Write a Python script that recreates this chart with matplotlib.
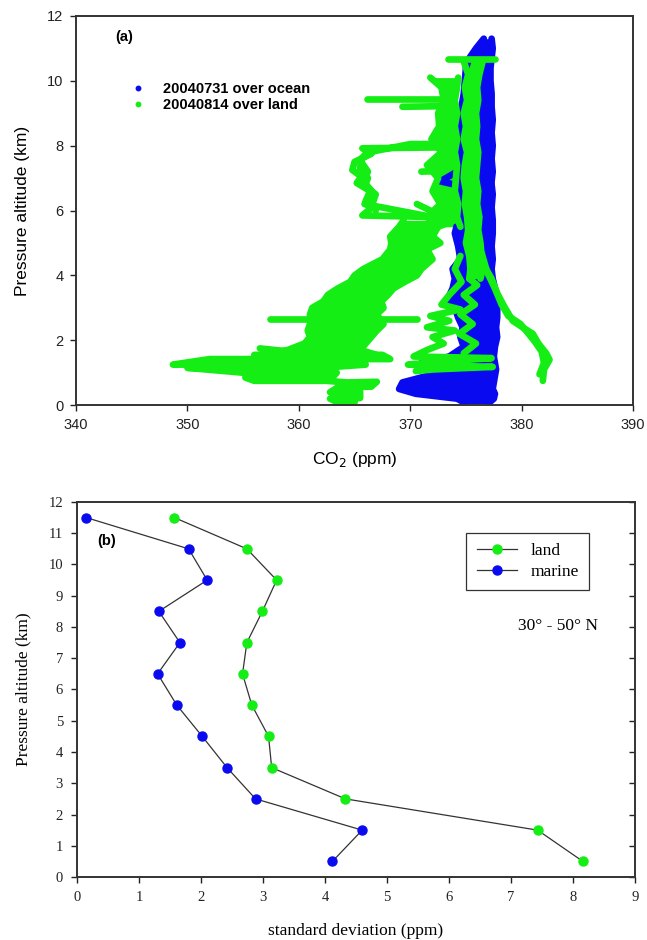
import matplotlib
matplotlib.use("Agg")
import matplotlib.pyplot as plt
from matplotlib.lines import Line2D

# ---- panel (a): CO2 profiles -------------------------------------------
# ocean flight 20040731: left / right edge of the measured band at each altitude
ocean_alt = [11.3, 11.0, 10.7, 10.4, 10.0, 9.6, 9.2, 8.8, 8.4, 8.0, 7.6, 7.2, 6.9, 6.8,
             6.5, 6.1, 5.7, 5.3, 4.9, 4.5, 4.2, 3.9, 3.6, 3.3, 3.0, 2.7, 2.4, 2.1,
             1.8, 1.5, 1.3, 1.1, 0.9, 0.7, 0.5, 0.35, 0.2, 0.05]
ocean_left = [376.6, 375.9, 375.3, 375.0, 374.9, 374.8, 374.6, 374.5, 374.4, 374.3,
              374.4, 374.2, 372.7, 374.0, 374.3, 374.4, 374.3, 374.0, 374.3, 374.5,
              373.8, 374.0, 373.8, 373.4, 374.0, 374.3, 374.7, 374.5, 374.8, 373.5,
              371.0, 372.5, 371.5, 369.3, 369.0, 370.5, 374.2, 375.0]
ocean_right = [377.3, 377.4, 377.3, 377.2, 377.2, 377.3, 377.3, 377.4, 377.3, 377.4,
               377.3, 377.4, 377.3, 377.3, 377.4, 377.3, 377.4, 377.4, 377.3, 377.4,
               377.3, 377.4, 377.6, 377.9, 377.8, 377.8, 377.7, 377.8, 377.6, 377.5,
               377.6, 377.7, 377.6, 377.5, 377.4, 377.6, 377.5, 377.0]

# land flight 20040814: main column near 375-376 ppm
landB_alt = [10.6, 10.2, 9.8, 9.4, 9.0, 8.6, 8.2, 7.8, 7.4, 7.0, 6.6, 6.2, 5.8, 5.4,
             5.0, 4.6, 4.2, 3.9]
landB_left = [374.8, 375.2, 374.9, 375.1, 374.8, 375.0, 374.8, 375.1, 374.9, 374.8,
              375.0, 374.9, 375.1, 375.2, 375.0, 375.3, 375.4, 375.3]
landB_right = [376.5, 376.2, 376.0, 376.1, 375.9, 376.0, 375.9, 376.1, 376.0, 375.9,
               376.1, 376.0, 376.2, 376.1, 376.3, 376.4, 376.5, 376.3]

# second column near 372-374 ppm (upper troposphere)
landA_alt = [10.1, 9.8, 9.4, 9.0, 8.6, 8.2, 7.8, 7.4, 7.0, 6.6, 6.2, 5.8, 5.5]
landA_left = [371.8, 372.8, 373.0, 372.5, 372.6, 371.9, 372.8, 371.5, 372.5, 372.0,
              372.7, 371.5, 372.5]
landA_right = [374.3, 374.2, 374.0, 374.2, 374.0, 374.2, 374.0, 374.2, 374.1, 374.0,
               374.3, 374.2, 374.5]

# lower-left band, 5.7 - 1.55 km
landL_alt = [5.7, 5.5, 5.2, 5.0, 4.8, 4.5, 4.2, 4.0, 3.8, 3.6, 3.4, 3.2, 3.0, 2.8,
             2.5, 2.3, 2.1, 1.9, 1.7, 1.55]
landL_left = [369.4, 369.0, 368.2, 368.3, 368.2, 367.5, 365.8, 365.0, 364.6, 363.5,
              362.6, 362.2, 361.2, 361.0, 361.0, 360.8, 361.0, 360.5, 359.0, 356.5]
landL_right = [374.0, 372.5, 372.0, 372.7, 371.5, 372.0, 371.0, 370.6, 369.5, 368.5,
               368.0, 367.4, 367.6, 367.0, 367.6, 367.0, 366.5, 366.0, 365.5, 367.0]

# individual legs (spikes, loop, boundary layer, branch to 382 ppm)
leg_top = ([373.4, 377.6], [10.68, 10.68])
leg_spike1 = ([366.1, 373.6], [9.45, 9.45])
leg_spike2 = ([369.3, 373.0], [9.2, 9.22])
leg_loop = ([373.3, 365.7, 366.5, 365.0, 364.8, 365.6, 365.2, 366.4, 366.0, 366.4,
             365.7, 372.0, 365.9, 366.8, 365.8, 366.2, 365.5, 366.3, 370.0, 373.5],
            [7.95, 7.92, 7.75, 7.50, 7.25, 7.05, 6.85, 6.60, 6.30, 6.05,
             5.85, 5.80, 6.20, 6.50, 6.90, 7.20, 7.55, 7.80, 8.05, 8.05])
leg_loop2 = ([366.3, 365.6, 365.5, 366.2, 365.9, 366.9, 366.6, 366.9],
             [7.85, 7.60, 7.30, 7.00, 6.75, 6.50, 6.20, 6.00])
leg_in1 = ([371.0, 372.7], [7.2, 7.22])
leg_in2 = ([370.6, 371.8], [6.2, 6.0])
leg_bar = ([357.4, 370.6], [2.65, 2.65])
leg_piece = ([356.5, 360.0], [1.75, 1.62])
leg_pbl = ([356.0, 367.5, 368.2, 352.0, 348.7, 366.0, 362.0, 350.0, 355.0, 363.4,
            363.0, 355.2, 356.0, 362.5, 364.3, 367.0, 366.5, 363.5, 362.8, 365.5,
            365.5, 362.8, 363.5, 365.0],
           [1.55, 1.55, 1.42, 1.42, 1.25, 1.25, 1.15, 1.15, 1.00, 1.00,
            0.85, 0.85, 0.75, 0.75, 0.70, 0.72, 0.57, 0.55, 0.40, 0.42,
            0.22, 0.20, 0.08, 0.08])
leg_v = ([374.5, 374.0, 374.6, 373.5, 372.8, 374.5, 371.8, 373.5, 371.5, 374.0,
          372.0, 373.0, 371.5, 370.3, 377.3, 373.0, 369.8, 377.4, 372.0, 370.5],
         [4.60, 4.20, 3.80, 3.40, 3.10, 2.95, 2.75, 2.60, 2.40, 2.30,
          2.10, 1.90, 1.70, 1.50, 1.45, 1.35, 1.25, 1.18, 1.10, 1.05])
leg_col = ([375.3, 376.0, 374.8, 375.8, 374.5, 375.6, 374.4, 375.9, 374.8],
           [3.90, 3.70, 3.40, 3.10, 2.80, 2.50, 2.20, 1.90, 1.60])
leg_branch1 = ([376.8, 377.3, 377.8, 378.5, 379.2, 380.3, 381.0, 381.5, 382.2, 382.5, 382.0, 381.9],
               [4.20, 3.90, 3.45, 3.00, 2.60, 2.35, 2.20, 1.90, 1.60, 1.40, 1.10, 0.75])
leg_branch2 = ([376.4, 376.9, 377.6, 378.2, 378.8, 379.9, 380.5, 381.2, 381.8, 382.0, 381.6],
               [4.70, 4.10, 3.60, 3.10, 2.75, 2.50, 2.25, 1.95, 1.65, 1.30, 0.95])
land_legs = [leg_top, leg_spike1, leg_spike2, leg_loop, leg_loop2, leg_in1, leg_in2,
             leg_bar, leg_piece, leg_pbl, leg_v, leg_col, leg_branch1, leg_branch2]

# ---- panel (b): standard deviation per 1 km layer ------------------------
layer_alt = [11.5, 10.5, 9.5, 8.5, 7.5, 6.5, 5.5, 4.5, 3.5, 2.5, 1.5, 0.5]
sd_land = [1.57, 2.74, 3.22, 2.99, 2.74, 2.67, 2.82, 3.09, 3.14, 4.33, 7.43, 8.16]
sd_marine = [0.15, 1.80, 2.10, 1.32, 1.66, 1.30, 1.61, 2.02, 2.42, 2.88, 4.60, 4.12]

blue = "#0a0af0"
green = "#14ee14"
spine_col = "#333333"
stroke = dict(lw=4.8, solid_capstyle="round", solid_joinstyle="round")


def band(ax, alt, left, right, color):
    ax.fill_betweenx(alt, left, right, color=color, lw=0)
    ax.plot(left, alt, color=color, **stroke)
    ax.plot(right, alt, color=color, **stroke)


fig = plt.figure(figsize=(6.47, 9.4), dpi=100)

# ---------------- (a) ----------------
ax1 = fig.add_axes([0.1175, 0.569, 0.861, 0.414])
band(ax1, ocean_alt, ocean_left, ocean_right, blue)
band(ax1, landB_alt, landB_left, landB_right, green)
band(ax1, landA_alt, landA_left, landA_right, green)
band(ax1, landL_alt, landL_left, landL_right, green)
for co2, alt in land_legs:
    ax1.plot(co2, alt, color=green, **stroke)

ax1.set_xlim(340, 390)
ax1.set_ylim(0, 12)
ax1.set_xticks([340, 350, 360, 370, 380, 390])
ax1.set_yticks([0, 2, 4, 6, 8, 10, 12])
ax1.tick_params(direction="out", length=4, width=1, labelsize=10.5,
                colors="#222222", pad=5)
for sp in ax1.spines.values():
    sp.set_color(spine_col)
    sp.set_linewidth(1.4)
ax1.set_xlabel("CO$_2$ (ppm)", fontsize=12.5, family="Liberation Sans", labelpad=13)
ax1.set_ylabel("Pressure altitude (km)", fontsize=12.5, family="Liberation Sans", labelpad=12)
for lab in ax1.get_xticklabels() + ax1.get_yticklabels():
    lab.set_family("Liberation Sans")

ax1.text(0.07, 0.946, "(a)", transform=ax1.transAxes, fontsize=10.5,
         fontweight="bold", family="Liberation Sans", va="center")
h1 = [Line2D([], [], ls="none", marker="o", ms=3.2, color=blue),
      Line2D([], [], ls="none", marker="o", ms=3.2, color=green)]
ax1.legend(h1, ["20040731 over ocean", "20040814 over land"], loc="upper left",
           bbox_to_anchor=(0.075, 0.865), frameon=False, handlelength=1.0,
           handletextpad=1.2, labelspacing=0.15,
           prop={"family": "Liberation Sans", "weight": "bold", "size": 10.5})

# ---------------- (b) ----------------
ax2 = fig.add_axes([0.119, 0.067, 0.8624, 0.399])
ax2.plot(sd_land, layer_alt, color="#333333", lw=0.9, marker="o", ms=6.5,
         mfc=green, mec=green, label="land")
ax2.plot(sd_marine, layer_alt, color="#333333", lw=0.9, marker="o", ms=6.5,
         mfc=blue, mec=blue, label="marine")
ax2.set_xlim(0, 9)
ax2.set_ylim(0, 12)
ax2.set_xticks(range(0, 10))
ax2.set_yticks(range(0, 13))
ax2.tick_params(direction="out", length=4, width=1, labelsize=10.5,
                colors="#222222", pad=6)
ax2.tick_params(axis="y", which="both", right=True, labelright=False)
# right-hand ticks point into the plot
for t in ax2.yaxis.get_ticklines()[1::2]:
    t.set_marker(matplotlib.lines.TICKLEFT)
for sp in ax2.spines.values():
    sp.set_color(spine_col)
    sp.set_linewidth(1.4)
for lab in ax2.get_xticklabels() + ax2.get_yticklabels():
    lab.set_family("Liberation Serif")
ax2.set_xlabel("standard deviation (ppm)", fontsize=12.5, family="Liberation Serif", labelpad=14)
ax2.set_ylabel("Pressure altitude (km)", fontsize=12.5, family="Liberation Serif", labelpad=12)

ax2.text(0.036, 0.896, "(b)", transform=ax2.transAxes, fontsize=10.5,
         fontweight="bold", family="Liberation Sans", va="center")
ax2.text(0.934, 0.669, "30° - 50° N", transform=ax2.transAxes, fontsize=12.5,
         family="Liberation Serif", ha="right", va="center")
leg = ax2.legend(loc="upper right", bbox_to_anchor=(0.934, 0.941), fancybox=False,
                 edgecolor="#333333", framealpha=1, handlelength=2.3,
                 labelspacing=0.25, borderpad=0.6,
                 prop={"family": "Liberation Serif", "size": 12.5})
leg.get_frame().set_linewidth(0.9)

fig.savefig("out.png", dpi=100)
